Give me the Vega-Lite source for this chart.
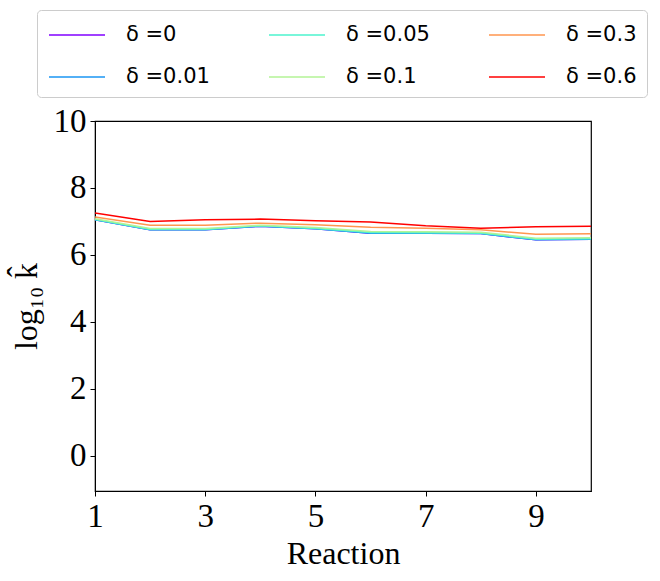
{
  "$schema": "https://vega.github.io/schema/vega-lite/v6.json",
  "autosize": "none",
  "width": 496,
  "height": 370,
  "padding": {"left": 95, "top": 121, "right": 69, "bottom": 90},
  "background": "white",
  "config": {
    "view": {"stroke": "black", "strokeWidth": 1.2},
    "axis": {
      "grid": false,
      "domainColor": "black",
      "tickColor": "black",
      "labelColor": "black",
      "titleColor": "black",
      "labelFont": "Liberation Serif",
      "titleFont": "Liberation Serif",
      "labelFontSize": 33,
      "titleFontSize": 32,
      "titleFontWeight": "normal",
      "tickSize": 5,
      "labelPadding": 4,
      "labelFlush": false
    }
  },
  "data": {
    "values": [
      {"reaction": 1, "delta": "δ =0", "logk": 7.05},
      {"reaction": 2, "delta": "δ =0", "logk": 6.75},
      {"reaction": 3, "delta": "δ =0", "logk": 6.75},
      {"reaction": 4, "delta": "δ =0", "logk": 6.86},
      {"reaction": 5, "delta": "δ =0", "logk": 6.78},
      {"reaction": 6, "delta": "δ =0", "logk": 6.65},
      {"reaction": 7, "delta": "δ =0", "logk": 6.65},
      {"reaction": 8, "delta": "δ =0", "logk": 6.64},
      {"reaction": 9, "delta": "δ =0", "logk": 6.45},
      {"reaction": 10, "delta": "δ =0", "logk": 6.47},
      {"reaction": 1, "delta": "δ =0.01", "logk": 7.05},
      {"reaction": 2, "delta": "δ =0.01", "logk": 6.75},
      {"reaction": 3, "delta": "δ =0.01", "logk": 6.75},
      {"reaction": 4, "delta": "δ =0.01", "logk": 6.86},
      {"reaction": 5, "delta": "δ =0.01", "logk": 6.78},
      {"reaction": 6, "delta": "δ =0.01", "logk": 6.65},
      {"reaction": 7, "delta": "δ =0.01", "logk": 6.65},
      {"reaction": 8, "delta": "δ =0.01", "logk": 6.64},
      {"reaction": 9, "delta": "δ =0.01", "logk": 6.45},
      {"reaction": 10, "delta": "δ =0.01", "logk": 6.47},
      {"reaction": 1, "delta": "δ =0.05", "logk": 7.06},
      {"reaction": 2, "delta": "δ =0.05", "logk": 6.76},
      {"reaction": 3, "delta": "δ =0.05", "logk": 6.76},
      {"reaction": 4, "delta": "δ =0.05", "logk": 6.87},
      {"reaction": 5, "delta": "δ =0.05", "logk": 6.79},
      {"reaction": 6, "delta": "δ =0.05", "logk": 6.67},
      {"reaction": 7, "delta": "δ =0.05", "logk": 6.66},
      {"reaction": 8, "delta": "δ =0.05", "logk": 6.65},
      {"reaction": 9, "delta": "δ =0.05", "logk": 6.47},
      {"reaction": 10, "delta": "δ =0.05", "logk": 6.48},
      {"reaction": 1, "delta": "δ =0.1", "logk": 7.08},
      {"reaction": 2, "delta": "δ =0.1", "logk": 6.79},
      {"reaction": 3, "delta": "δ =0.1", "logk": 6.79},
      {"reaction": 4, "delta": "δ =0.1", "logk": 6.89},
      {"reaction": 5, "delta": "δ =0.1", "logk": 6.82},
      {"reaction": 6, "delta": "δ =0.1", "logk": 6.70},
      {"reaction": 7, "delta": "δ =0.1", "logk": 6.69},
      {"reaction": 8, "delta": "δ =0.1", "logk": 6.68},
      {"reaction": 9, "delta": "δ =0.1", "logk": 6.50},
      {"reaction": 10, "delta": "δ =0.1", "logk": 6.51},
      {"reaction": 1, "delta": "δ =0.3", "logk": 7.13},
      {"reaction": 2, "delta": "δ =0.3", "logk": 6.89},
      {"reaction": 3, "delta": "δ =0.3", "logk": 6.89},
      {"reaction": 4, "delta": "δ =0.3", "logk": 6.95},
      {"reaction": 5, "delta": "δ =0.3", "logk": 6.90},
      {"reaction": 6, "delta": "δ =0.3", "logk": 6.83},
      {"reaction": 7, "delta": "δ =0.3", "logk": 6.80},
      {"reaction": 8, "delta": "δ =0.3", "logk": 6.75},
      {"reaction": 9, "delta": "δ =0.3", "logk": 6.62},
      {"reaction": 10, "delta": "δ =0.3", "logk": 6.63},
      {"reaction": 1, "delta": "δ =0.6", "logk": 7.25},
      {"reaction": 2, "delta": "δ =0.6", "logk": 7.00},
      {"reaction": 3, "delta": "δ =0.6", "logk": 7.05},
      {"reaction": 4, "delta": "δ =0.6", "logk": 7.07},
      {"reaction": 5, "delta": "δ =0.6", "logk": 7.02},
      {"reaction": 6, "delta": "δ =0.6", "logk": 6.98},
      {"reaction": 7, "delta": "δ =0.6", "logk": 6.87},
      {"reaction": 8, "delta": "δ =0.6", "logk": 6.80},
      {"reaction": 9, "delta": "δ =0.6", "logk": 6.84},
      {"reaction": 10, "delta": "δ =0.6", "logk": 6.86}
    ]
  },
  "mark": {"type": "line", "strokeWidth": 1.5, "clip": true},
  "encoding": {
    "x": {
      "field": "reaction",
      "type": "quantitative",
      "title": "Reaction",
      "scale": {"domain": [1, 10], "nice": false, "zero": false},
      "axis": {"values": [1, 3, 5, 7, 9], "titlePadding": 5}
    },
    "y": {
      "field": "logk",
      "type": "quantitative",
      "title": "log₁₀ k̂",
      "scale": {"domain": [-1.05, 10], "nice": false, "zero": false},
      "axis": {"values": [0, 2, 4, 6, 8, 10], "titlePadding": 10}
    },
    "color": {
      "field": "delta",
      "type": "nominal",
      "scale": {
        "domain": ["δ =0", "δ =0.05", "δ =0.3", "δ =0.01", "δ =0.1", "δ =0.6"],
        "range": ["#8000ff", "#4df3ce", "#ff964f", "#1a96f3", "#b3f396", "#ff0000"]
      },
      "legend": {
        "title": null,
        "orient": "none",
        "legendX": -58,
        "legendY": -111,
        "columns": 3,
        "direction": "horizontal",
        "symbolType": "M-2,0H2",
        "symbolSize": 784,
        "symbolOffset": 15,
        "symbolStrokeWidth": 1.5,
        "symbolFillColor": "transparent",
        "labelFont": "DejaVu Sans",
        "labelFontSize": 21,
        "labelColor": "black",
        "labelOffset": 34,
        "columnPadding": 56,
        "rowPadding": 17,
        "padding": 10,
        "strokeColor": "#cccccc",
        "cornerRadius": 4,
        "fillColor": "white"
      }
    }
  }
}
